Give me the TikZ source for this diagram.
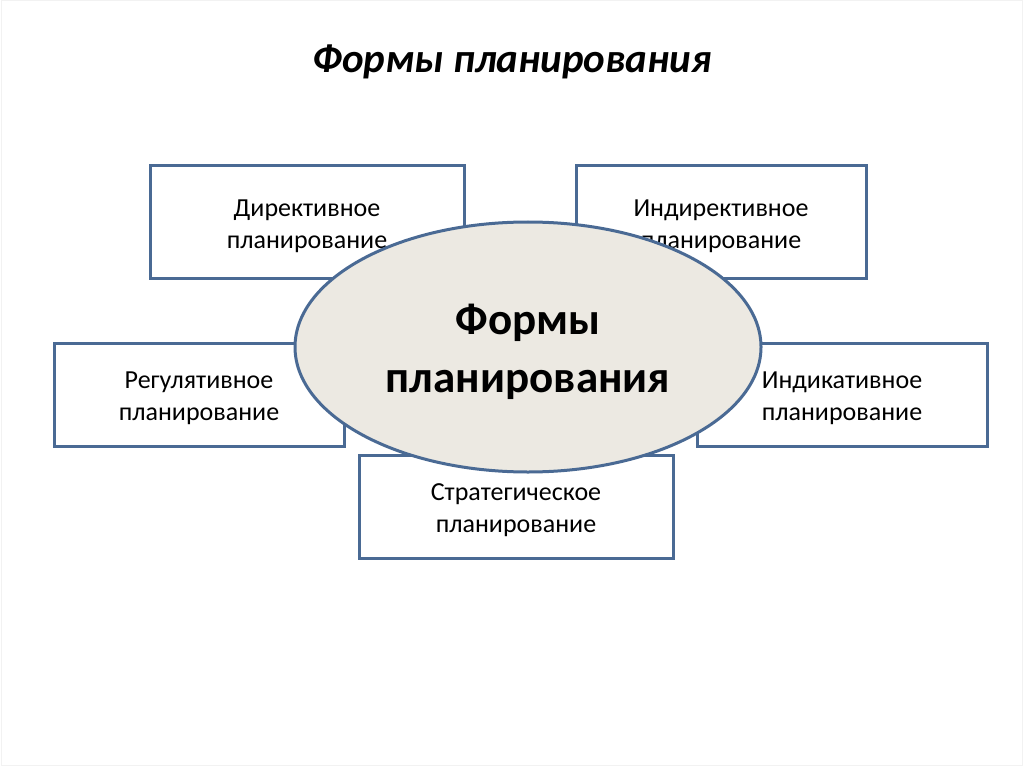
\documentclass[tikz,border=0pt]{standalone}
\usepackage{fontspec}
\setmainfont{Carlito}
\usetikzlibrary{shapes.geometric}
\definecolor{boxblue}{HTML}{4A6A94}
\definecolor{ellfill}{HTML}{ECE9E2}
\tikzset{
  formbox/.style={draw=boxblue, line width=3pt, fill=white, inner sep=0pt},
  formtext/.style={align=center, inner sep=0pt, yshift=-4pt,
    font=\fontsize{26}{32}\selectfont, text=black},
  centerell/.style={ellipse, draw=boxblue, line width=3pt, fill=ellfill, inner sep=0pt},
  centertext/.style={align=center, inner sep=0pt, yshift=-5pt,
    font=\bfseries\fontsize{45}{58}\selectfont, text=black},
  titletext/.style={font=\bfseries\itshape\fontsize{41}{44}\selectfont, text=black}
}
\begin{document}
\begin{tikzpicture}[x=1pt,y=-1pt]
\useasboundingbox (0,0) rectangle (1024,767);
\draw[black!5, line width=1pt] (1,1) rectangle (1022,765);
\node[titletext] (title) at (512,62) {Формы планирования};
\node[formbox, minimum width=314pt, minimum height=112pt,
  label={[formtext]center:Директивное\\планирование}] (dir) at (307,222) {};
\node[formbox, minimum width=290pt, minimum height=112pt,
  label={[formtext]center:Индирективное\\планирование}] (indir) at (721,222) {};
\node[formbox, minimum width=290pt, minimum height=103pt,
  label={[formtext]center:Регулятивное\\планирование}] (reg) at (199,394.5) {};
\node[formbox, minimum width=290pt, minimum height=103pt,
  label={[formtext]center:Индикативное\\планирование}] (ind) at (842,394.5) {};
\node[formbox, minimum width=314pt, minimum height=103pt,
  label={[formtext]center:Стратегическое\\планирование}] (str) at (516,506.5) {};
\node[centerell, minimum width=466pt, minimum height=250pt,
  label={[centertext]center:Формы\\планирования}] (core) at (528,347) {};
\end{tikzpicture}
\end{document}
